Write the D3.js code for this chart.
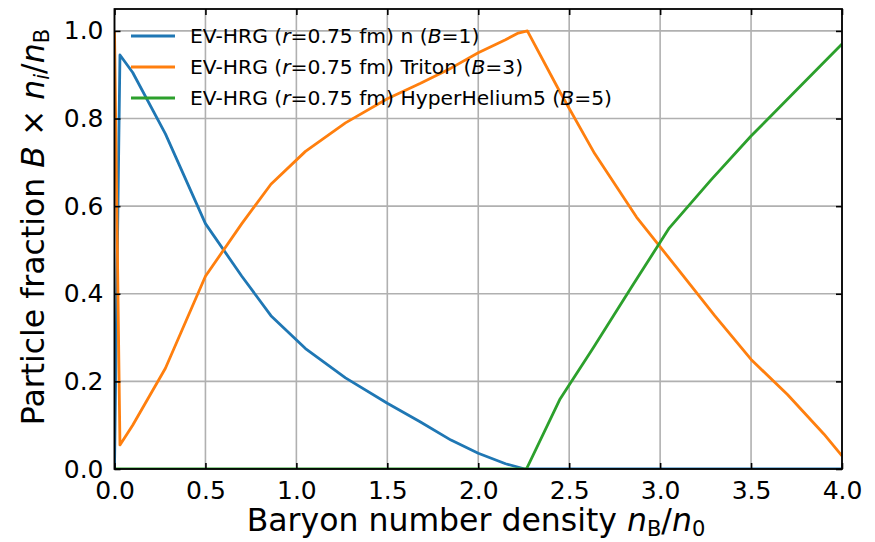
<!DOCTYPE html>
<html><head><meta charset="utf-8">
<script src="https://cdn.jsdelivr.net/npm/d3@7"></script>
<style>
body{margin:0;background:#fff;}
svg text{font-family:"DejaVu Sans",sans-serif;fill:#000;}
</style></head>
<body><svg id="c" width="875" height="542"></svg>
<script>
// ---- data ----
const xTicks = [0.0,0.5,1.0,1.5,2.0,2.5,3.0,3.5,4.0];
const yTicks = [0.0,0.2,0.4,0.6,0.8,1.0];
const nX   = [0.0,0.03,0.10,0.28,0.50,0.70,0.86,1.05,1.27,1.50,1.68,1.85,2.00,2.15,2.257,4.0];
const nY   = [0.0,0.945,0.905,0.765,0.56,0.44,0.35,0.275,0.208,0.15,0.108,0.066,0.036,0.012,0.0,0.0];
const tX   = [0.0,0.03,0.10,0.28,0.50,0.70,0.86,1.05,1.27,1.50,1.68,1.85,2.00,2.15,2.22,2.27,2.45,2.64,2.87,3.10,3.30,3.50,3.70,3.90,4.0];
const tY   = [1.0,0.055,0.10,0.23,0.44,0.56,0.65,0.725,0.79,0.845,0.88,0.915,0.95,0.98,0.995,1.0,0.86,0.72,0.575,0.455,0.35,0.25,0.17,0.08,0.03];
const hX   = [0.0,2.265,2.45,2.63,2.85,3.05,3.28,3.50,3.75,4.0];
const hY   = [0.0,0.0,0.16,0.275,0.42,0.55,0.66,0.76,0.865,0.97];
const seriesNames = ["n","Triton","HyperHelium5"];
const seriesB = [1,3,5];
const colors = ["#1f77b4","#ff7f0e","#2ca02c"];

const svg = d3.select("#c");
const L=114.5, R=842, T=9, B=469;
const x = d3.scaleLinear().domain([0,4]).range([L,R]);
const y = d3.scaleLinear().domain([0,1.05]).range([B,T]);

// grid
const g = svg.append("g");
g.selectAll("line.gx").data(xTicks).enter().append("line")
  .attr("x1",d=>x(d)).attr("x2",d=>x(d)).attr("y1",T).attr("y2",B)
  .attr("stroke","#b0b0b0").attr("stroke-width",1.6);
g.selectAll("line.gy").data(yTicks).enter().append("line")
  .attr("y1",d=>y(d)).attr("y2",d=>y(d)).attr("x1",L).attr("x2",R)
  .attr("stroke","#b0b0b0").attr("stroke-width",1.6);

// lines
svg.append("clipPath").attr("id","clip").append("rect")
  .attr("x",L).attr("y",T).attr("width",R-L).attr("height",B-T);
const line = d3.line().x(d=>x(d[0])).y(d=>y(d[1]));
const series = [d3.zip(nX,nY), d3.zip(tX,tY), d3.zip(hX,hY)];
series.forEach((s,i)=>{
  svg.append("path").datum(s).attr("d",line).attr("fill","none")
    .attr("stroke",colors[i]).attr("stroke-width",2.8)
    .attr("stroke-linejoin","round").attr("clip-path","url(#clip)");
});

// axes (ticks inside, all sides)
const tl = 6;
const ax = svg.append("g");
const axB = d3.axisBottom(x).tickValues(xTicks).tickFormat(d3.format(".1f")).tickSizeInner(-tl).tickSizeOuter(0).tickPadding(12);
const axL = d3.axisLeft(y).tickValues(yTicks).tickFormat(d3.format(".1f")).tickSizeInner(-tl).tickSizeOuter(0).tickPadding(11);
const axT = d3.axisTop(x).tickValues(xTicks).tickFormat("").tickSizeInner(-tl).tickSizeOuter(0);
const axR = d3.axisRight(y).tickValues(yTicks).tickFormat("").tickSizeInner(-tl).tickSizeOuter(0);
[[axB,`translate(0,${B})`],[axL,`translate(${L},0)`],[axT,`translate(0,${T})`],[axR,`translate(${R},0)`]].forEach(([a,t])=>{
  const gg = ax.append("g").attr("transform",t).call(a);
  gg.select(".domain").remove();
  gg.selectAll(".tick line").attr("stroke","#000").attr("stroke-width",1.6);
  gg.selectAll("text").style("font-size","25px").attr("fill","#000").style("font-family","DejaVu Sans");
});
svg.append("rect").attr("x",L).attr("y",T).attr("width",R-L).attr("height",B-T)
  .attr("fill","none").attr("stroke","#000").attr("stroke-width",1.8);

// axis labels
const xl = svg.append("text").attr("x",476).attr("y",531).attr("text-anchor","middle").style("font-size","31.5px");
xl.append("tspan").text("Baryon number density ");
xl.append("tspan").attr("font-style","italic").text("n");
xl.append("tspan").attr("baseline-shift","-22%").style("font-size","21px").text("B");
xl.append("tspan").text("/");
xl.append("tspan").attr("font-style","italic").text("n");
xl.append("tspan").attr("baseline-shift","-22%").style("font-size","21px").text("0");

const yl = svg.append("text").attr("transform",`translate(44,227) rotate(-90)`).attr("text-anchor","middle").style("font-size","31.5px");
yl.append("tspan").text("Particle fraction ");
yl.append("tspan").attr("font-style","italic").text("B");
yl.append("tspan").text(" × ");
yl.append("tspan").attr("font-style","italic").text("n");
yl.append("tspan").attr("baseline-shift","-22%").attr("font-style","italic").style("font-size","21px").text("i");
yl.append("tspan").text("/");
yl.append("tspan").attr("font-style","italic").text("n");
yl.append("tspan").attr("baseline-shift","-22%").style("font-size","21px").text("B");

// legend
const lg = svg.append("g");
seriesNames.forEach((nm,i)=>{
  const yy = 36 + i*31;
  lg.append("line").attr("x1",131).attr("x2",175).attr("y1",yy).attr("y2",yy)
    .attr("stroke",colors[i]).attr("stroke-width",2.8);
  const t = lg.append("text").attr("x",190).attr("y",yy+7).style("font-size","20.3px");
  t.append("tspan").text("EV-HRG (");
  t.append("tspan").attr("font-style","italic").text("r");
  t.append("tspan").text(`=0.75 fm) ${nm} (`);
  t.append("tspan").attr("font-style","italic").text("B");
  t.append("tspan").text(`=${seriesB[i]})`);
});
</script></body></html>
